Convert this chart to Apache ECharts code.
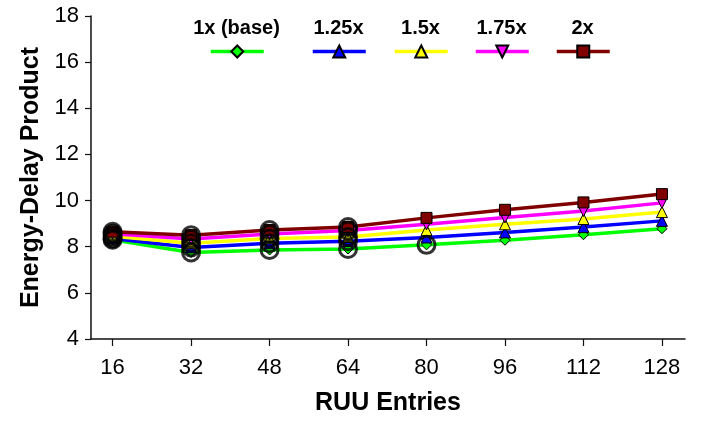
<!DOCTYPE html>
<html>
<head>
<meta charset="utf-8">
<script src="https://cdn.jsdelivr.net/npm/echarts@6/dist/echarts.min.js"></script>
<style>
html,body{margin:0;padding:0;background:#fff;}
#chart{width:702px;height:421px;}
</style>
</head>
<body>
<div id="chart"></div>
<script>
var ruuEntries = [16, 32, 48, 64, 80, 96, 112, 128];
var xTicks = [16, 32, 48, 64, 80, 96, 112, 128];
var seriesNames = ['1x (base)', '1.25x', '1.5x', '1.75x', '2x'];
var base1x  = [8.30, 7.75, 7.86, 7.90, 8.08, 8.28, 8.52, 8.78];
var s125x   = [8.36, 7.97, 8.15, 8.24, 8.40, 8.62, 8.85, 9.12];
var s150x   = [8.45, 8.15, 8.36, 8.42, 8.72, 8.97, 9.20, 9.50];
var s175x   = [8.56, 8.33, 8.55, 8.70, 8.97, 9.27, 9.55, 9.90];
var s200x   = [8.65, 8.50, 8.72, 8.85, 9.25, 9.60, 9.92, 10.28];
// number of leading points circled in each series
var circledCount = [5, 4, 4, 4, 4];

var FONT = "'Liberation Sans', Arial, Helvetica, sans-serif";
var values = [base1x, s125x, s150x, s175x, s200x];
var colors = ['#00ff00', '#0000ff', '#ffff00', '#ff00ff', '#800000'];
var symbols = ['diamond', 'triangle', 'triangle', 'triangle', 'rect'];
var rotates = [0, 0, 0, 180, 0];
var sizes = [10, 11, 11, 11, 11];

var series = [];
values.forEach(function (vals, i) {
  series.push({
    name: seriesNames[i],
    type: 'line',
    data: vals.map(function (v, j) { return [ruuEntries[j], v]; }),
    symbol: symbols[i],
    symbolSize: sizes[i],
    symbolRotate: rotates[i],
    showAllSymbol: true,
    lineStyle: { color: colors[i], width: 3.5 },
    itemStyle: { color: colors[i], borderColor: '#000', borderWidth: 1 },
    z: 2 + i,
    animation: false
  });
});
var rings = [];
values.forEach(function (vals, i) {
  for (var j = 0; j < circledCount[i]; j++) rings.push([ruuEntries[j], vals[j]]);
});
series.push({
  type: 'scatter',
  data: rings,
  symbol: 'circle',
  symbolSize: 17,
  itemStyle: { color: 'rgba(0,0,0,0)', borderColor: '#000', borderWidth: 3 },
  silent: true,
  z: 20,
  animation: false
});

var legendLefts = [209, 311, 393, 474, 555];
var legends = seriesNames.map(function (n, i) {
  return {
    data: [n],
    left: legendLefts[i],
    top: 44,
    padding: 0,
    itemWidth: 53,
    itemHeight: 15,
    itemGap: 0,
    formatter: function () { return ''; },
    textStyle: { fontSize: 1, padding: 0 },
    lineStyle: { width: 3.5 },
    selectedMode: false
  };
});

var chart = echarts.init(document.getElementById('chart'));
chart.setOption({
  backgroundColor: '#fff',
  animation: false,
  grid: { left: 91, right: 17, top: 16, bottom: 82 },
  legend: legends,
  graphic: seriesNames.map(function (n, i) {
    return {
      type: 'text',
      x: legendLefts[i] + 27.5,
      y: 28,
      style: {
        text: n,
        font: 'bold 20px ' + FONT,
        fill: '#000',
        align: 'center',
        verticalAlign: 'middle'
      }
    };
  }),
  xAxis: {
    type: 'value',
    min: 11.6,
    max: 132.7,
    name: 'RUU Entries',
    nameLocation: 'middle',
    nameGap: 52,
    nameTextStyle: { fontFamily: FONT, fontWeight: 'bold', fontSize: 25, color: '#000' },
    axisLine: { show: true, lineStyle: { color: '#111', width: 1.5 } },
    axisTick: { show: true, length: 7, customValues: xTicks, lineStyle: { color: '#111', width: 1.2 } },
    axisLabel: { customValues: xTicks, fontFamily: FONT, fontSize: 22, color: '#000', margin: 18 },
    splitLine: { show: false }
  },
  yAxis: {
    type: 'value',
    min: 4,
    max: 18,
    interval: 2,
    name: 'Energy-Delay Product',
    nameLocation: 'middle',
    nameGap: 47,
    nameTextStyle: { fontFamily: FONT, fontWeight: 'bold', fontSize: 25, color: '#000' },
    axisLine: { show: true, lineStyle: { color: '#111', width: 1.5 } },
    axisTick: { show: true, length: 6, lineStyle: { color: '#111', width: 1.2 } },
    axisLabel: { fontFamily: FONT, fontSize: 22, color: '#000', margin: 12 },
    splitLine: { show: false }
  },
  series: series
});
</script>
</body>
</html>
